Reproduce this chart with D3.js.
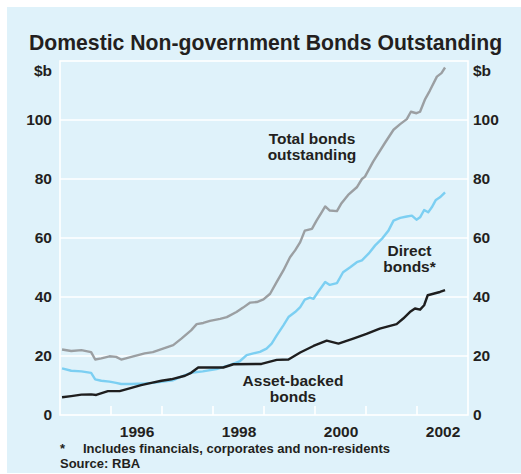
<!DOCTYPE html>
<html>
<head>
<meta charset="utf-8">
<script src="https://cdn.jsdelivr.net/npm/d3@7/dist/d3.min.js"></script>
<style>
  html, body { margin: 0; padding: 0; background: #ffffff; }
  svg { display: block; }
  text { font-family: "Liberation Sans", Arial, Helvetica, sans-serif; font-weight: bold; fill: #231f20; }
</style>
</head>
<body>
<svg id="chart" width="521" height="474"></svg>
<script>
// Domestic non-government bonds outstanding, $ billion ([decimal year, value])
const totalBonds = [
  [1995.04, 22.2], [1995.22, 21.7], [1995.42, 22.0], [1995.61, 21.3], [1995.69, 18.8],
  [1995.81, 19.2], [1995.97, 19.9], [1996.10, 19.7], [1996.20, 18.8], [1996.40, 19.7],
  [1996.66, 20.9], [1996.82, 21.3], [1997.02, 22.5], [1997.22, 23.7], [1997.38, 25.9],
  [1997.57, 28.7], [1997.68, 30.8], [1997.81, 31.2], [1997.94, 31.9], [1998.14, 32.6],
  [1998.27, 33.2], [1998.46, 34.9], [1998.59, 36.4], [1998.73, 38.1], [1998.86, 38.3],
  [1998.99, 39.2], [1999.12, 41.1], [1999.25, 45.1], [1999.38, 49.0], [1999.51, 53.5],
  [1999.61, 55.8], [1999.71, 58.6], [1999.80, 62.5], [1999.94, 63.1], [2000.03, 65.9],
  [2000.13, 68.7], [2000.20, 70.7], [2000.29, 69.3], [2000.43, 69.1], [2000.52, 71.8],
  [2000.65, 74.6], [2000.82, 77.2], [2000.92, 80.0], [2000.98, 80.8], [2001.14, 85.9],
  [2001.37, 92.2], [2001.54, 96.7], [2001.67, 98.6], [2001.80, 100.3], [2001.88, 102.8],
  [2001.99, 102.3], [2002.06, 102.8], [2002.16, 107.1], [2002.25, 109.9], [2002.39, 114.7],
  [2002.48, 115.9], [2002.55, 117.8]
];

const directBonds = [
  [1995.04, 15.8], [1995.22, 15.0], [1995.42, 14.8], [1995.61, 14.3], [1995.69, 12.1],
  [1995.81, 11.6], [1995.97, 11.3], [1996.10, 10.9], [1996.20, 10.5], [1996.40, 10.5],
  [1996.66, 10.7], [1996.82, 10.9], [1997.02, 11.3], [1997.22, 11.8], [1997.38, 13.0],
  [1997.57, 14.3], [1997.80, 14.8], [1998.07, 15.6], [1998.33, 16.9], [1998.53, 18.3],
  [1998.66, 20.3], [1998.79, 20.9], [1998.92, 21.4], [1999.05, 22.5], [1999.15, 24.2],
  [1999.25, 27.0], [1999.38, 30.4], [1999.48, 33.2], [1999.61, 34.9], [1999.71, 36.6],
  [1999.80, 39.1], [1999.90, 39.8], [1999.97, 39.4], [2000.06, 41.7], [2000.20, 45.1],
  [2000.29, 44.1], [2000.43, 44.7], [2000.55, 48.4], [2000.69, 50.1], [2000.82, 51.8],
  [2000.92, 52.4], [2001.05, 54.7], [2001.18, 57.5], [2001.31, 59.7], [2001.44, 62.5],
  [2001.54, 65.9], [2001.67, 66.8], [2001.80, 67.3], [2001.90, 67.6], [2001.99, 66.2],
  [2002.06, 67.0], [2002.14, 69.5], [2002.22, 68.7], [2002.29, 70.4], [2002.37, 72.9],
  [2002.45, 73.8], [2002.55, 75.5]
];

const assetBacked = [
  [1995.04, 6.0], [1995.22, 6.4], [1995.42, 6.9], [1995.61, 7.0], [1995.71, 6.8],
  [1995.94, 8.1], [1996.17, 8.1], [1996.40, 9.2], [1996.59, 10.1], [1996.79, 10.9],
  [1996.99, 11.6], [1997.18, 12.1], [1997.45, 13.3], [1997.57, 14.3], [1997.71, 16.1],
  [1997.90, 16.1], [1998.20, 16.1], [1998.40, 17.2], [1998.95, 17.3], [1999.25, 18.7],
  [1999.48, 18.8], [1999.71, 21.2], [1999.97, 23.4], [2000.23, 25.2], [2000.46, 24.2],
  [2000.75, 25.9], [2001.01, 27.5], [2001.27, 29.3], [2001.60, 30.8], [2001.73, 32.7],
  [2001.86, 34.9], [2001.96, 36.1], [2002.06, 35.7], [2002.14, 37.2], [2002.21, 40.6],
  [2002.32, 41.1], [2002.45, 41.7], [2002.55, 42.3]
];

const yTicks = [0, 20, 40, 60, 80, 100];
const yearBoundaries = [1996, 1997, 1998, 1999, 2000, 2001, 2002];
const yearLabels = [1996, 1998, 2000, 2002];

const titleText = "Domestic Non-government Bonds Outstanding";
const unitText = "$b";
const footnotes = ["Includes financials, corporates and non-residents", "Source: RBA"];

const svg = d3.select("#chart");
const W = 521, H = 474;
const plot = { left: 60, right: 468, top: 61, bottom: 415 };

const x = d3.scaleLinear().domain([1995, 2003]).range([plot.left, plot.right]);
const y = d3.scaleLinear().domain([0, 120]).range([plot.bottom, plot.top]);

// panel background
svg.append("rect").attr("x", 7).attr("y", 7).attr("width", W - 7).attr("height", 466)
  .attr("fill", "#dff2fa");

// title
svg.append("text").attr("x", 29).attr("y", 49.5)
  .attr("font-size", 21.2).text(titleText);

// horizontal grid
svg.append("g").selectAll("line").data(yTicks.filter(d => d > 0)).join("line")
  .attr("x1", plot.left).attr("x2", plot.right)
  .attr("y1", d => y(d)).attr("y2", d => y(d))
  .attr("stroke", "#ffffff").attr("stroke-width", 1.6);

// frame
svg.append("rect").attr("x", plot.left).attr("y", plot.top)
  .attr("width", plot.right - plot.left).attr("height", plot.bottom - plot.top)
  .attr("fill", "none").attr("stroke", "#ffffff").attr("stroke-width", 1.6);

// year tick marks along the bottom
svg.append("g").selectAll("line").data(yearBoundaries).join("line")
  .attr("x1", d => x(d)).attr("x2", d => x(d))
  .attr("y1", plot.bottom).attr("y2", plot.bottom - 9)
  .attr("stroke", "#ffffff").attr("stroke-width", 1.6);

// y axis labels, both sides
const yAxisL = d3.axisLeft(y).tickValues(yTicks).tickSize(0).tickPadding(8);
const yAxisR = d3.axisRight(y).tickValues(yTicks).tickSize(0).tickPadding(5);
const gl = svg.append("g").attr("transform", `translate(${plot.left},0)`).call(yAxisL);
const gr = svg.append("g").attr("transform", `translate(${plot.right},0)`).call(yAxisR);
[gl, gr].forEach(g => {
  g.select(".domain").remove();
  g.selectAll("text").attr("font-size", 15.5).attr("font-family", null)
    .attr("font-weight", "bold").attr("fill", "#231f20");
});
gl.selectAll("text").attr("x", -8);

svg.append("text").attr("x", plot.left - 8).attr("y", 75.5)
  .attr("text-anchor", "end").attr("font-size", 15.5).text(unitText);
svg.append("text").attr("x", plot.right + 5).attr("y", 75.5)
  .attr("font-size", 15.5).text(unitText);

// x axis labels, centred on the year
const xAxis = d3.axisBottom(x).tickValues(yearLabels.map(d => d + 0.5))
  .tickFormat((d) => String(Math.floor(d))).tickSize(0).tickPadding(11);
const gx = svg.append("g").attr("transform", `translate(0,${plot.bottom})`).call(xAxis);
gx.select(".domain").remove();
gx.selectAll("text").attr("font-size", 15.5).attr("font-family", null)
  .attr("font-weight", "bold").attr("fill", "#231f20");

// series lines
const line = d3.line().x(d => x(d[0])).y(d => y(d[1]));
const series = [
  { data: totalBonds, color: "#9b9fa2", width: 2.4 },
  { data: directBonds, color: "#7ccff2", width: 2.4 },
  { data: assetBacked, color: "#1e1e1e", width: 2.4 }
];
svg.append("g").selectAll("path").data(series).join("path")
  .attr("d", d => line(d.data))
  .attr("fill", "none")
  .attr("stroke", d => d.color)
  .attr("stroke-width", d => d.width)
  .attr("stroke-linejoin", "round");

// series labels
const labels = [
  { lines: ["Total bonds", "outstanding"], cx: 312, y0: 144.3 },
  { lines: ["Direct", "bonds*"], cx: 409.5, y0: 256 },
  { lines: ["Asset-backed", "bonds"], cx: 293, y0: 386 }
];
labels.forEach(l => {
  const t = svg.append("text").attr("text-anchor", "middle").attr("font-size", 15.5);
  l.lines.forEach((s, i) => {
    t.append("tspan").attr("x", l.cx).attr("y", l.y0 + i * 15.6).text(s);
  });
});

// footnotes
svg.append("text").attr("x", 60).attr("y", 452.7).attr("font-size", 13).text("*");
svg.append("text").attr("x", 83).attr("y", 452.7).attr("font-size", 13).text(footnotes[0]);
svg.append("text").attr("x", 60).attr("y", 468.3).attr("font-size", 13).text(footnotes[1]);
</script>
</body>
</html>
